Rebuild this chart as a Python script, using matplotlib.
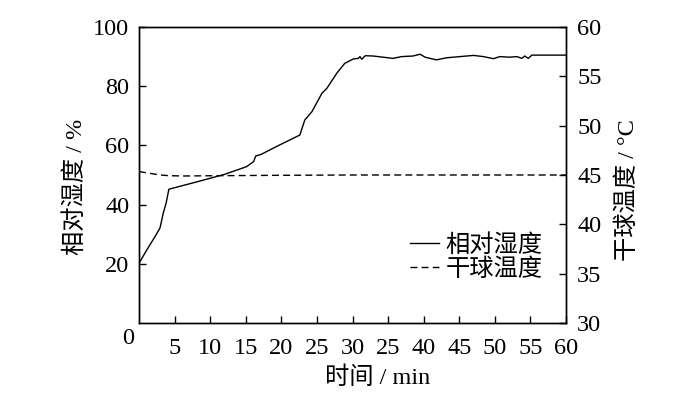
import matplotlib
matplotlib.use("Agg")
import matplotlib.pyplot as plt

# ---- data ----
t_rh = [0.1, 1.1, 2.25, 2.95, 3.2, 3.4, 3.8, 4.2, 8.0, 12.0, 15.1, 16.1, 16.4, 17.2, 19.3,
        22.6, 23.3, 24.3, 25.7, 26.4, 27.8, 28.9, 30.1, 30.8, 31.05, 31.3, 31.8, 32.9,
        34.3, 35.7, 36.9, 38.5, 39.5, 40.2, 41.8, 43.2, 45.1, 47.0, 48.4, 49.8, 50.7,
        52.1, 53.1, 53.8, 54.2, 54.7, 55.2, 60.0]
rh = [20.6, 24.7, 29.2, 32.1, 34.8, 37.1, 40.4, 45.2, 47.6, 50.2, 52.8, 54.5, 56.4, 57.0, 59.6,
      63.5, 68.6, 71.4, 77.6, 79.3, 84.4, 87.7, 89.2, 89.4, 90.0, 89.1, 90.3, 90.2,
      89.8, 89.4, 90.0, 90.2, 90.8, 89.8, 88.9, 89.6, 90.0, 90.4, 90.0, 89.3, 90.0,
      89.8, 90.0, 89.4, 90.2, 89.4, 90.5, 90.5]

t_temp = [0.0, 1.5, 3.0, 4.2, 6.3, 11.0, 20.0, 30.0, 40.0, 50.0, 60.0]
temp = [45.35, 45.17, 45.0, 44.93, 44.9, 44.93, 44.97, 45.0, 45.0, 45.0, 45.0]

x_ticks = [5, 10, 15, 20, 25, 30, 35, 40, 45, 50, 55, 60]
x_tick_labels = ["5", "10", "15", "20", "25", "30", "25", "40", "45", "50", "55", "60"]
y_left_ticks = [20, 40, 60, 80, 100]
y_right_ticks = [30, 35, 40, 45, 50, 55, 60]

label_rh = "相对湿度"
label_temp = "干球温度"

FS = 17.5
FAM = ["Liberation Serif", "Noto Sans CJK SC"]
plt.rcParams["font.family"] = FAM
plt.rcParams["font.size"] = FS

fig = plt.figure(figsize=(7.0, 4.03), dpi=100)
ax = fig.add_axes([139/700, 1 - 323/403, (566 - 139)/700, (323 - 27)/403])
ax2 = ax.twinx()

l1, = ax.plot(t_rh, rh, color="black", lw=1.0)
l2, = ax2.plot(t_temp, temp, color="black", lw=1.0, linestyle=(0, (5, 3)))

ax.set_xlim(0, 60)
ax.set_ylim(0, 100)
ax2.set_ylim(30, 60)

ax.set_xticks(x_ticks)
ax.set_xticklabels(x_tick_labels)
ax.set_yticks(y_left_ticks)
ax2.set_yticks(y_right_ticks)

ax.tick_params(axis="y", direction="in", length=5, width=1, pad=7, labelsize=FS)
ax.tick_params(axis="x", direction="in", length=5, width=1, pad=11, labelsize=FS)
ax2.tick_params(axis="y", direction="in", length=5, width=1, pad=8, labelsize=FS)
for a in (ax, ax2):
    for s in a.spines.values():
        s.set_linewidth(1.0)

fig.text(128/700, 1 - 338/403, "0", ha="center", va="center", fontsize=FS)

fig.text(75/700, 1 - 187/403, "相对湿度 / %", rotation=90, ha="center", va="center", fontsize=FS)
fig.text(628/700, 1 - 190/403, "干球温度 / °C", rotation=90, ha="center", va="center", fontsize=FS)
fig.text(378/700, 1 - 378/403, "时间 / min", ha="center", va="center", fontsize=FS)

leg = ax.legend([l1, l2], [label_rh, label_temp], loc="upper left",
                bbox_to_anchor=(410/700, 1 - 234/403), bbox_transform=fig.transFigure,
                frameon=False, handlelength=1.2, handletextpad=0.25, labelspacing=0.05,
                borderpad=0, borderaxespad=0, fontsize=FS)

fig.savefig("out.png", dpi=100)
